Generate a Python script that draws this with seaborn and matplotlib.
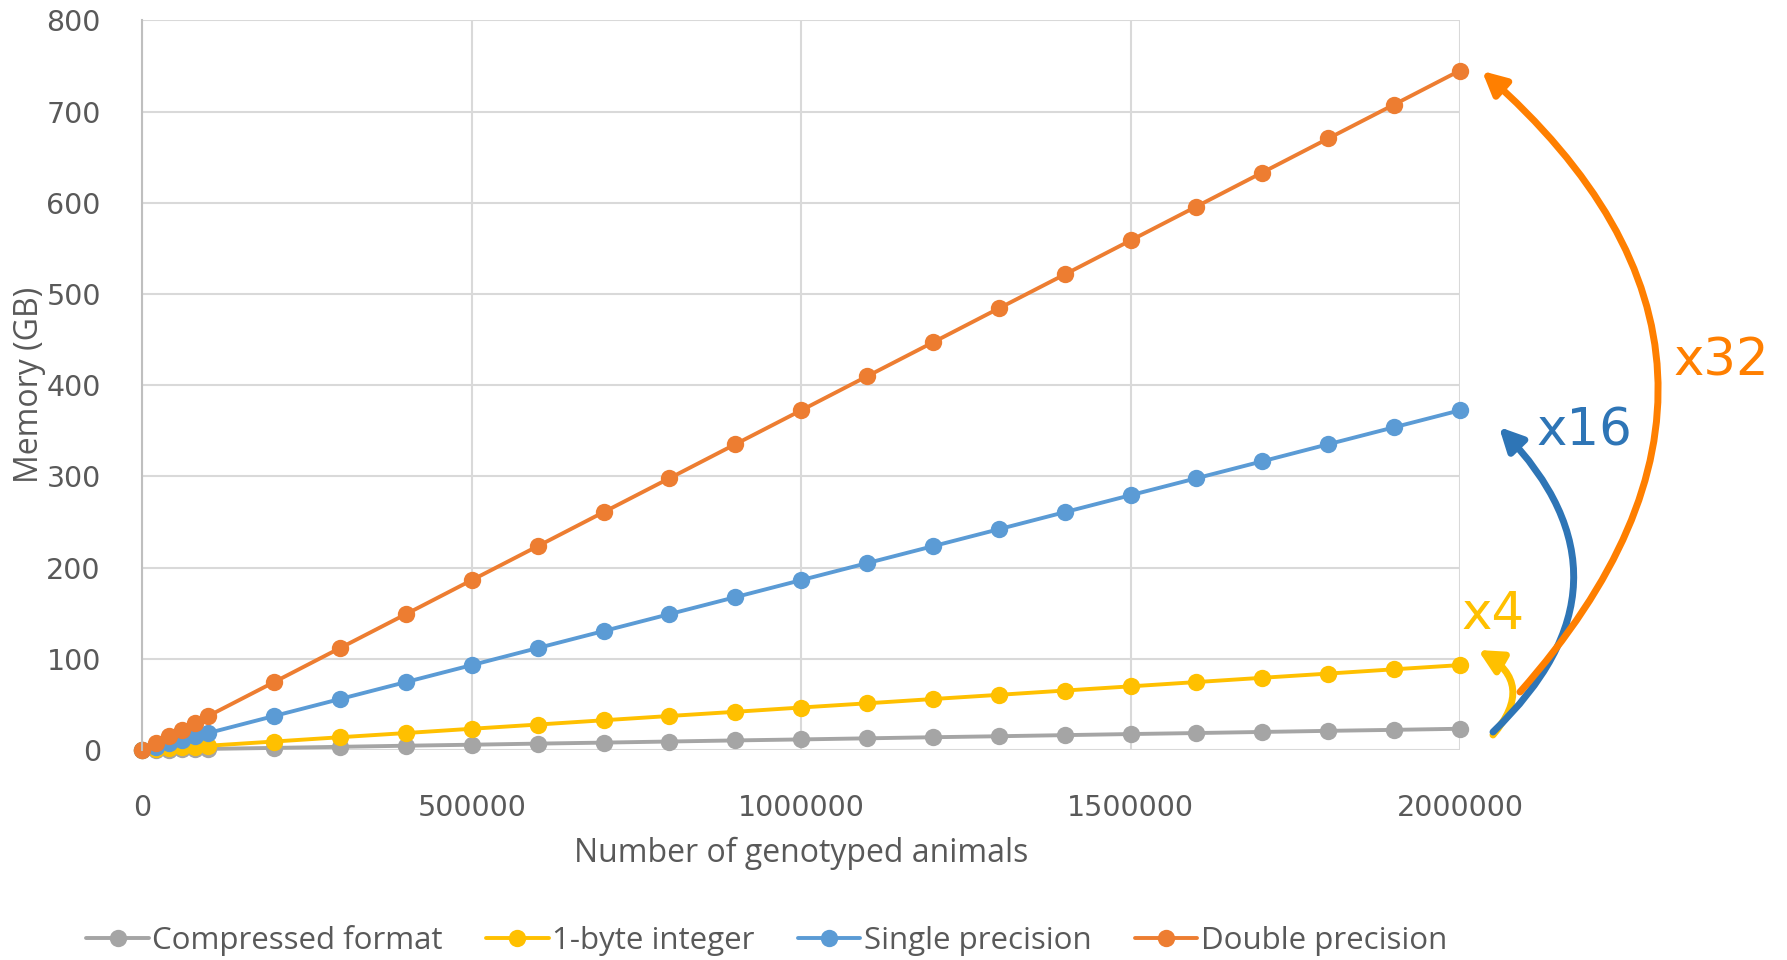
import numpy as np
import pandas as pd
import seaborn as sns
import matplotlib.pyplot as plt

# data
animals = [0, 20000, 40000, 60000, 80000, 100000, 200000, 300000, 400000, 500000,
           600000, 700000, 800000, 900000, 1000000, 1100000, 1200000, 1300000,
           1400000, 1500000, 1600000, 1700000, 1800000, 1900000, 2000000]
compressed = [0, 0.2, 0.5, 0.7, 0.9, 1.2, 2.3, 3.5, 4.7, 5.8, 7.0, 8.1, 9.3, 10.5,
              11.6, 12.8, 14.0, 15.1, 16.3, 17.5, 18.6, 19.8, 21.0, 22.1, 23.3]
one_byte = [0, 0.9, 1.9, 2.8, 3.7, 4.7, 9.3, 14.0, 18.6, 23.3, 27.9, 32.6, 37.3,
            41.9, 46.6, 51.2, 55.9, 60.5, 65.2, 69.8, 74.5, 79.2, 83.8, 88.5, 93.1]
single = [0, 3.7, 7.5, 11.2, 14.9, 18.6, 37.3, 55.9, 74.5, 93.1, 111.8, 130.4,
          149.0, 167.6, 186.3, 204.9, 223.5, 242.1, 260.8, 279.4, 298.0, 316.6,
          335.3, 353.9, 372.5]
double = [0, 7.45, 14.9, 22.4, 29.8, 37.3, 74.5, 111.8, 149.0, 186.3, 223.5, 260.8,
          298.0, 335.3, 372.5, 409.8, 447.0, 484.3, 521.5, 558.8, 596.0, 633.3,
          670.6, 707.8, 745.1]

series = {
    "Compressed format": (compressed, "#A5A5A5"),
    "1-byte integer": (one_byte, "#FFC000"),
    "Single precision": (single, "#5B9BD5"),
    "Double precision": (double, "#ED7D31"),
}

sns.set_style("white")
plt.rcParams['font.family'] = ['DejaVu Sans']

fig = plt.figure(figsize=(17.87, 9.6), dpi=100)
ax = fig.add_axes([0.0797, 0.21875, 0.7373, 0.7599])

for name, (vals, col) in series.items():
    df = pd.DataFrame({'n': animals, 'mem': vals})
    sns.lineplot(data=df, x='n', y='mem', ax=ax, color=col, marker='o',
                 markersize=12.5, markeredgewidth=0, linewidth=2.8, label=name,
                 clip_on=False)

ax.set_xlim(0, 2000000)
ax.set_ylim(0, 800)
ax.set_xticks(np.arange(0, 2000001, 500000))
ax.set_xticklabels([str(v) for v in range(0, 2000001, 500000)])
ax.set_yticks(np.arange(0, 801, 100))
ax.grid(True, color='#D9D9D9', linewidth=1.5)
ax.set_axisbelow(True)
for s in ['top', 'right', 'bottom']:
    ax.spines[s].set_visible(False)
ax.spines['left'].set_color('#BFBFBF')
ax.spines['left'].set_linewidth(1.5)
ax.tick_params(axis='both', labelsize=20.5, colors='#595959', length=0)
ax.tick_params(axis='x', pad=32)
ax.tick_params(axis='y', pad=30)

ax.set_xlabel("Number of genotyped animals", fontsize=23, color='#595959',
              family='Open Sans', labelpad=10)
ax.set_ylabel("Memory (GB)", fontsize=23, color='#595959', family='Open Sans',
              labelpad=0)

ax.get_legend().remove()
h, l = ax.get_legend_handles_labels()
fig.legend(h, l, loc='center', bbox_to_anchor=(0.429, 1 - 940 / 960), ncol=4,
           frameon=False, prop={'family': 'Open Sans', 'size': 22.5},
           labelcolor='#595959', handlelength=2.0, handletextpad=0.1,
           columnspacing=1.4, borderaxespad=0)

# curved multiplier arrows, in figure pixels
arrows = [
    ((1493, 225), (1478, 310), 0.6, '#FFC000'),
    ((1493, 228), (1499, 533), 0.5, '#2E75B6'),
    ((1520, 268), (1482, 889), 0.5, '#FF7F00'),
]
for start, end, rad, col in arrows:
    ax.annotate('', xy=end, xytext=start, xycoords='figure pixels',
                textcoords='figure pixels',
                arrowprops=dict(arrowstyle='-|>,head_length=1.4,head_width=0.7',
                                color=col, lw=5,
                                connectionstyle='arc3,rad=%s' % rad,
                                shrinkA=0, shrinkB=0))

fig.text(1721 / 1787, 1 - 362 / 960, 'x32', color='#FF7F00', fontsize=37,
         ha='center', va='center')
fig.text(1584 / 1787, 1 - 431 / 960, 'x16', color='#2E75B6', fontsize=37,
         ha='center', va='center')
fig.text(1493 / 1787, 1 - 615 / 960, 'x4', color='#FFC000', fontsize=37,
         ha='center', va='center')

fig.savefig('out.png', dpi=100)
